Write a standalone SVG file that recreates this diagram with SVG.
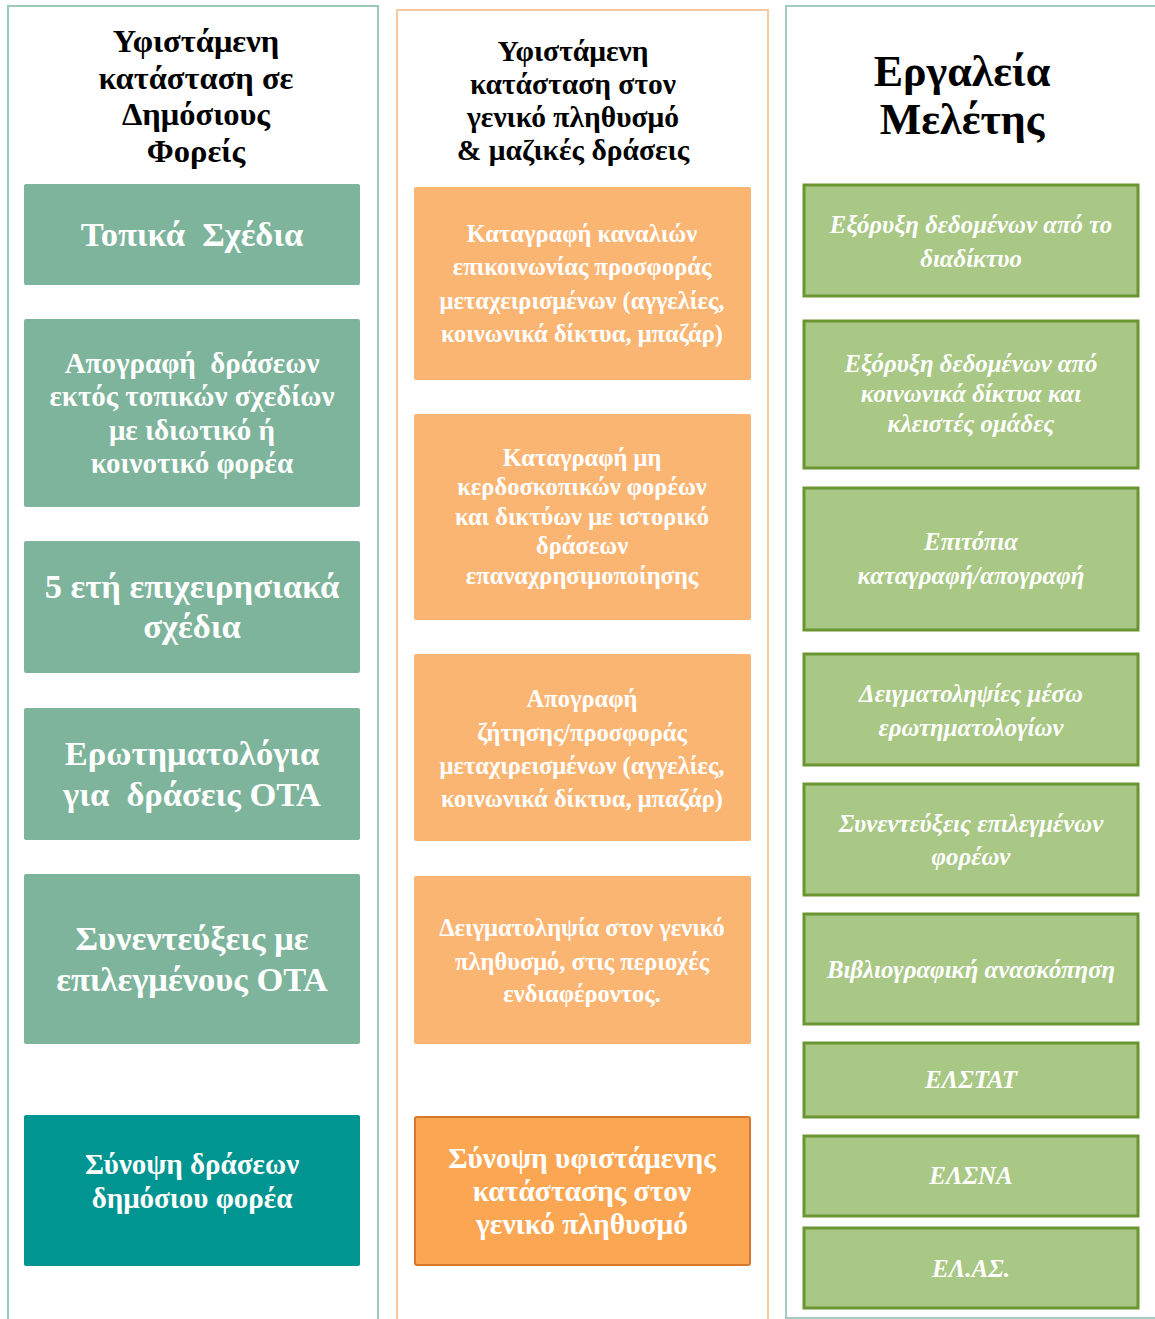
<svg xmlns="http://www.w3.org/2000/svg" width="1155" height="1319" viewBox="0 0 1155 1319">
<style>
text{font-family:"Liberation Serif","Times New Roman",serif;font-weight:bold;text-anchor:middle}
.title{fill:#000}
.w{fill:#fff}
.g{fill:#7db49b}
.o{fill:#fbb573}
.l{fill:#a9c785;stroke:#6b9530;stroke-width:3}
.it{font-style:italic}
</style>
<rect width="1155" height="1319" fill="#fff"/>
<g id="col1">
<rect x="8" y="6" width="370" height="1320" fill="none" stroke="#9ccab6" stroke-width="2"/>
<text class="title" font-size="32.5"><tspan x="196" y="52">Υφιστάμενη</tspan><tspan x="196" y="89">κατάσταση σε</tspan><tspan x="196" y="125">Δημόσιους</tspan><tspan x="196" y="162">Φορείς</tspan></text>
</g>
<g id="col2">
<rect x="397" y="10" width="371" height="1320" fill="none" stroke="#f8c8a0" stroke-width="2"/>
<text class="title" font-size="29.5"><tspan x="573" y="61">Υφιστάμενη</tspan><tspan x="573" y="94">κατάσταση στον</tspan><tspan x="573" y="127">γενικό πληθυσμό</tspan><tspan x="573" y="160">&amp; μαζικές δράσεις</tspan></text>
</g>
<g id="col3">
<rect x="786" y="6" width="380" height="1312" fill="none" stroke="#a3cbc1" stroke-width="2"/>
<text class="title" font-size="44"><tspan x="962" y="86">Εργαλεία</tspan><tspan x="962" y="134">Μελέτης</tspan></text>
</g>
<g id="connectors"></g>
<g id="g1"><rect class="g" x="24" y="184" width="336" height="101" rx="2"/><text class="w" font-size="34.5" x="192" y="246" xml:space="preserve">Τοπικά  Σχέδια</text></g>
<g id="g2"><rect class="g" x="24" y="319" width="336" height="188" rx="2"/><text class="w" font-size="29" xml:space="preserve"><tspan x="192" y="373">Απογραφή  δράσεων</tspan><tspan x="192" y="406">εκτός τοπικών σχεδίων</tspan><tspan x="192" y="440">με ιδιωτικό ή</tspan><tspan x="192" y="473">κοινοτικό φορέα</tspan></text></g>
<g id="g3"><rect class="g" x="24" y="541" width="336" height="132" rx="2"/><text class="w" font-size="34.5"><tspan x="192" y="598">5 ετή επιχειρησιακά</tspan><tspan x="192" y="638">σχέδια</tspan></text></g>
<g id="g4"><rect class="g" x="24" y="708" width="336" height="132" rx="2"/><text class="w" font-size="34.5" xml:space="preserve"><tspan x="192" y="765">Ερωτηματολόγια</tspan><tspan x="192" y="806">για  δράσεις ΟΤΑ</tspan></text></g>
<g id="g5"><rect class="g" x="24" y="874" width="336" height="170" rx="2"/><text class="w" font-size="34.5"><tspan x="192" y="950">Συνεντεύξεις με</tspan><tspan x="192" y="991">επιλεγμένους ΟΤΑ</tspan></text></g>
<g id="g6"><rect fill="#019591" x="24" y="1115" width="336" height="151" rx="2"/><text class="w" font-size="29"><tspan x="192" y="1174">Σύνοψη δράσεων</tspan><tspan x="192" y="1208">δημόσιου φορέα</tspan></text></g>
<g id="o1"><rect class="o" x="414" y="187" width="337" height="193" rx="2"/><text class="w" font-size="24.5"><tspan x="582" y="242">Καταγραφή καναλιών</tspan><tspan x="582" y="275">επικοινωνίας προσφοράς</tspan><tspan x="582" y="309">μεταχειρισμένων (αγγελίες,</tspan><tspan x="582" y="342">κοινωνικά δίκτυα, μπαζάρ)</tspan></text></g>
<g id="o2"><rect class="o" x="414" y="414" width="337" height="206" rx="2"/><text class="w" font-size="24.5"><tspan x="582" y="466">Καταγραφή μη</tspan><tspan x="582" y="495">κερδοσκοπικών φορέων</tspan><tspan x="582" y="525">και δικτύων με ιστορικό</tspan><tspan x="582" y="554">δράσεων</tspan><tspan x="582" y="584">επαναχρησιμοποίησης</tspan></text></g>
<g id="o3"><rect class="o" x="414" y="654" width="337" height="187" rx="2"/><text class="w" font-size="24.5"><tspan x="582" y="707">Απογραφή</tspan><tspan x="582" y="741">ζήτησης/προσφοράς</tspan><tspan x="582" y="774">μεταχιρεισμένων (αγγελίες,</tspan><tspan x="582" y="807">κοινωνικά δίκτυα, μπαζάρ)</tspan></text></g>
<g id="o4"><rect class="o" x="414" y="876" width="337" height="168" rx="2"/><text class="w" font-size="24.5"><tspan x="582" y="936">Δειγματοληψία στον γενικό</tspan><tspan x="582" y="970">πληθυσμό, στις περιοχές</tspan><tspan x="582" y="1002">ενδιαφέροντος.</tspan></text></g>
<g id="o5"><rect fill="#fba652" stroke="#d6772c" stroke-width="2" x="415" y="1117" width="335" height="148" rx="2"/><text class="w" font-size="29.5"><tspan x="582" y="1168">Σύνοψη υφιστάμενης</tspan><tspan x="582" y="1201">κατάστασης στον</tspan><tspan x="582" y="1234">γενικό πληθυσμό</tspan></text></g>
<g id="t1"><rect class="l" x="804" y="185" width="334" height="111"/><text class="w it" font-size="24.8"><tspan x="971" y="233">Εξόρυξη δεδομένων από το</tspan><tspan x="971" y="267">διαδίκτυο</tspan></text></g>
<g id="t2"><rect class="l" x="804" y="321" width="334" height="147"/><text class="w it" font-size="24.8"><tspan x="971" y="372">Εξόρυξη δεδομένων από</tspan><tspan x="971" y="402">κοινωνικά δίκτυα και</tspan><tspan x="971" y="432">κλειστές ομάδες</tspan></text></g>
<g id="t3"><rect class="l" x="804" y="488" width="334" height="142"/><text class="w it" font-size="24.8"><tspan x="971" y="550">Επιτόπια</tspan><tspan x="971" y="584">καταγραφή/απογραφή</tspan></text></g>
<g id="t4"><rect class="l" x="804" y="654" width="334" height="111"/><text class="w it" font-size="24.8"><tspan x="971" y="702">Δειγματοληψίες μέσω</tspan><tspan x="971" y="736">ερωτηματολογίων</tspan></text></g>
<g id="t5"><rect class="l" x="804" y="784" width="334" height="111"/><text class="w it" font-size="24.8"><tspan x="971" y="832">Συνεντεύξεις επιλεγμένων</tspan><tspan x="971" y="865">φορέων</tspan></text></g>
<g id="t6"><rect class="l" x="804" y="914" width="334" height="110"/><text class="w it" font-size="24.8" x="971" y="978">Βιβλιογραφική ανασκόπηση</text></g>
<g id="t7"><rect class="l" x="804" y="1043" width="334" height="74"/><text class="w it" font-size="25" x="971" y="1088">ΕΛΣΤΑΤ</text></g>
<g id="t8"><rect class="l" x="804" y="1136" width="334" height="80"/><text class="w it" font-size="25" x="971" y="1184">ΕΛΣΝΑ</text></g>
<g id="t9"><rect class="l" x="804" y="1228" width="334" height="80"/><text class="w it" font-size="25" x="971" y="1277">ΕΛ.ΑΣ.</text></g>
</svg>
